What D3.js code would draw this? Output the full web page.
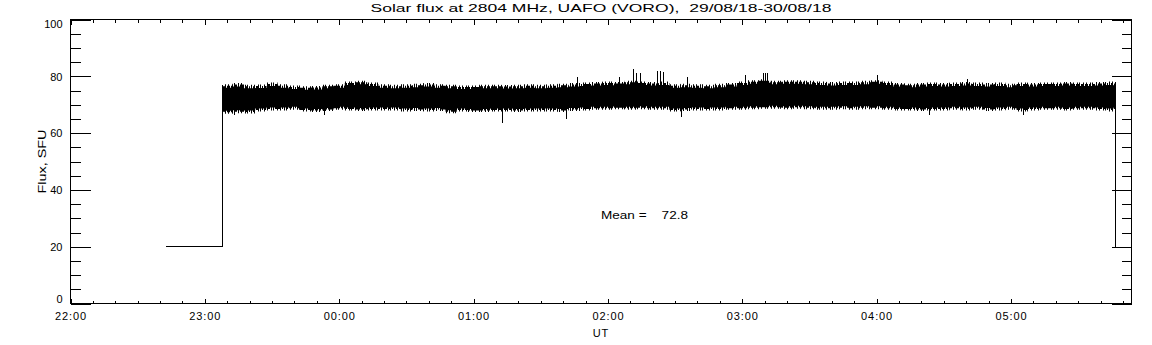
<!DOCTYPE html>
<html><head><meta charset="utf-8">
<script src="https://cdn.jsdelivr.net/npm/d3@7"></script>
<style>
html,body{margin:0;padding:0;background:#fff;}
svg{display:block;}
text{font-family:"Liberation Sans",Arial,sans-serif;fill:#000;}
</style></head><body>
<svg id="chart" width="1152" height="345"></svg>
<script>
// ---------- data ----------
const titleText = "Solar flux at 2804 MHz, UAFO (VORO),  29/08/18-30/08/18";
const xLabel = "UT";
const yLabel = "Flux, SFU";
const meanValue = 72.8;
const meanLabel = "Mean =    72.8";
const xDomain = ["22:00:00", "05:53:50"];
const yDomain = [0, 100];
const xTickLabels = ["22:00","23:00","00:00","01:00","02:00","03:00","04:00","05:00"];
const yTickValues = [0, 20, 40, 60, 80, 100];

// flat calibration level before / after the observation
const preTimes = ["22:42:42", "23:07:48"];
const preValues = [20, 20];
const postTimes = ["05:46:42"];
const postValues = [20];

// 5-minute envelope of the noisy flux record (upper / lower extent)
const bandTimes = ["23:07:48","23:10","23:15","23:20","23:25","23:30","23:35","23:40","23:45","23:50","23:55",
  "00:00","00:05","00:10","00:15","00:20","00:25","00:30","00:35","00:40","00:45","00:50","00:55",
  "01:00","01:05","01:10","01:15","01:20","01:25","01:30","01:35","01:40","01:45","01:50","01:55",
  "02:00","02:05","02:10","02:15","02:20","02:25","02:30","02:35","02:40","02:45","02:50","02:55",
  "03:00","03:05","03:10","03:15","03:20","03:25","03:30","03:35","03:40","03:45","03:50","03:55",
  "04:00","04:05","04:10","04:15","04:20","04:25","04:30","04:35","04:40","04:45","04:50","04:55",
  "05:00","05:05","05:10","05:15","05:20","05:25","05:30","05:35","05:40","05:45","05:46:42"];
const bandHigh = [77.0,77.2,77.6,77.0,77.1,77.8,77.2,76.8,76.5,76.6,77.0,
  77.2,78.2,78.4,77.8,77.2,77.0,77.2,77.4,77.6,77.2,77.0,76.8,
  76.8,77.0,77.0,76.9,77.0,77.2,77.0,77.2,77.4,77.6,77.8,78.0,
  78.2,78.0,78.4,78.2,78.0,78.2,77.2,77.4,77.2,77.0,77.4,77.6,
  78.2,78.6,79.0,78.4,78.6,78.6,78.4,78.2,78.0,78.2,78.2,78.4,
  78.6,78.2,77.6,77.4,77.6,77.8,77.6,77.8,78.0,77.8,77.6,77.8,
  77.4,77.8,77.6,77.8,77.8,78.0,77.8,77.8,78.0,78.2,78.0];
const bandLow = [67.0,66.8,67.0,66.9,67.6,68.0,68.0,68.2,67.6,67.4,67.8,
  68.2,68.0,67.8,68.0,68.0,68.0,67.6,67.8,67.6,67.8,67.0,67.6,
  67.4,67.4,67.6,67.6,67.4,67.6,67.6,67.6,67.4,67.8,68.0,68.2,
  68.2,68.4,68.2,68.4,68.2,68.2,67.6,67.8,68.0,68.0,68.0,68.2,
  68.2,68.4,68.6,68.6,68.4,68.6,68.4,68.2,68.2,68.4,68.2,68.4,
  68.4,68.2,68.0,68.0,67.8,68.0,68.0,68.2,68.0,68.2,67.8,68.0,
  68.2,67.6,68.0,68.2,68.2,68.0,68.2,68.2,68.0,67.6,68.0];

// isolated spikes
const spikeUpTimes = ["01:46:24","02:05:24","02:11:24","02:12:36","02:14:24","02:22:06","02:23:18","02:24:48",
  "02:35:36","03:01:24","03:09:36","03:10:24","03:11:12","04:00:12","04:40:24"];
const spikeUpValues = [79.8,79.8,82.7,81.0,81.0,81.8,81.8,81.5,79.8,80.3,81.0,81.0,81.0,80.3,79.2];
const spikeDownTimes = ["23:13:18","23:53:36","01:12:48","01:41:18","02:33:00","04:23:42","05:05:48"];
const spikeDownValues = [66.3,66.3,63.6,65.1,65.7,66.3,66.5];

// ---------- helpers ----------
function parseT(s){
  const p = s.split(":").map(Number);
  const day = p[0] >= 12 ? 29 : 30;
  return new Date(2018, 7, day, p[0], p[1], p[2] || 0);
}

const svg = d3.select("#chart");
const L = 70.5, R = 1131.5, T = 19.5, B = 303.5;
const x = d3.scaleTime().domain(xDomain.map(parseT)).range([L, R]);
const y = d3.scaleLinear().domain(yDomain).range([B, T]);

// patterns for the ragged fringe of the noise band
const defs = svg.append("defs");
function makePattern(id, w, bars){
  const p = defs.append("pattern").attr("id", id).attr("width", w).attr("height", 4)
    .attr("patternUnits","userSpaceOnUse");
  bars.forEach(([px, bw]) => p.append("rect").attr("x", px).attr("y", 0).attr("width", bw).attr("height", 4).attr("fill","#000"));
}
makePattern("fringeOuter", 13, [[0,1],[4,1],[7,1],[11,1]]);
makePattern("fringeInner", 11, [[0,2],[3,3],[7,1],[9,1]]);

// ---------- axes ----------
const hourTicks = xTickLabels.map(parseT);
const minorX = d3.timeMinute.every(10).range(x.domain()[0], x.domain()[1]).filter(d => d.getMinutes() !== 0);
const minorY = d3.range(0, 101, 5).filter(v => v % 20 !== 0);

function clean(g){ g.select(".domain").remove(); g.selectAll("line").attr("stroke","#000").attr("shape-rendering","crispEdges"); }

svg.append("g").attr("transform",`translate(0,${B})`)
  .call(d3.axisBottom(x).tickValues(hourTicks).tickSize(-5).tickPadding(9)
    .tickFormat((d,i) => xTickLabels[i]))
  .call(clean)
  .call(g => g.selectAll("text").attr("font-size","11px").attr("letter-spacing","0.9px").attr("fill","#000"));
svg.append("g").attr("transform",`translate(0,${B})`)
  .call(d3.axisBottom(x).tickValues(minorX).tickSize(-3).tickFormat("")).call(clean);
svg.append("g").attr("transform",`translate(0,${T})`)
  .call(d3.axisTop(x).tickValues(hourTicks).tickSize(-5).tickFormat("")).call(clean);
svg.append("g").attr("transform",`translate(0,${T})`)
  .call(d3.axisTop(x).tickValues(minorX).tickSize(-3).tickFormat("")).call(clean);

svg.append("g").attr("transform",`translate(${L},0)`)
  .call(d3.axisLeft(y).tickValues(yTickValues).tickSize(-20).tickPadding(8).tickFormat(d3.format("d")))
  .call(clean)
  .call(g => g.selectAll("text").attr("font-size","11px").attr("fill","#000")
     .attr("dy", d => d === 0 ? "-0.05em" : d === 100 ? "0.7em" : "0.35em"));
svg.append("g").attr("transform",`translate(${L},0)`)
  .call(d3.axisLeft(y).tickValues(minorY).tickSize(-10).tickFormat("")).call(clean);
svg.append("g").attr("transform",`translate(${R},0)`)
  .call(d3.axisRight(y).tickValues(yTickValues).tickSize(-20).tickFormat("")).call(clean);
svg.append("g").attr("transform",`translate(${R},0)`)
  .call(d3.axisRight(y).tickValues(minorY).tickSize(-10).tickFormat("")).call(clean);

// frame
svg.append("rect").attr("x",L).attr("y",T).attr("width",R-L).attr("height",B-T)
  .attr("fill","none").attr("stroke","#000").attr("shape-rendering","crispEdges");

// ---------- data marks ----------
const band = bandTimes.map((t,i) => ({t: parseT(t), hi: bandHigh[i], lo: bandLow[i]}));
const bandArea = (inTop, inBot) => d3.area().x(d => x(d.t))
  .y0(d => y(d.lo) - inBot).y1(d => y(d.hi) + inTop).curve(d3.curveStep);
svg.append("path").attr("d", bandArea(0, 0)(band)).attr("fill","url(#fringeOuter)");
svg.append("path").attr("d", bandArea(1.5, 1.5)(band)).attr("fill","url(#fringeInner)");
svg.append("path").attr("d", bandArea(3.5, 3)(band)).attr("fill","#000");

const line = d3.line().x(d => x(d.t)).y(d => y(d.v));
const first = band[0], last = band[band.length-1];
const pre = preTimes.map((t,i) => ({t: parseT(t), v: preValues[i]})).concat([{t: first.t, v: first.hi}]);
const post = [{t: last.t, v: last.hi}].concat(postTimes.map((t,i) => ({t: parseT(t), v: postValues[i]})));
svg.append("path").attr("d", line(pre)).attr("fill","none").attr("stroke","#000").attr("shape-rendering","crispEdges");
svg.append("path").attr("d", line(post)).attr("fill","none").attr("stroke","#000").attr("shape-rendering","crispEdges");

svg.append("g").selectAll("line").data(spikeUpTimes.map((t,i) => ({t: parseT(t), v: spikeUpValues[i]})))
  .join("line").attr("x1", d => x(d.t)).attr("x2", d => x(d.t))
  .attr("y1", y(meanValue)).attr("y2", d => y(d.v))
  .attr("stroke","#000").attr("shape-rendering","crispEdges");
svg.append("g").selectAll("line").data(spikeDownTimes.map((t,i) => ({t: parseT(t), v: spikeDownValues[i]})))
  .join("line").attr("x1", d => x(d.t)).attr("x2", d => x(d.t))
  .attr("y1", y(meanValue)).attr("y2", d => y(d.v))
  .attr("stroke","#000").attr("shape-rendering","crispEdges");

// ---------- texts ----------
svg.append("text").attr("x", (L+R)/2).attr("y", 11.5).attr("text-anchor","middle").style("white-space","pre")
  .attr("font-size","11.5px").attr("textLength", 461).attr("lengthAdjust","spacingAndGlyphs")
  .text(titleText);
svg.append("text").attr("x", (L+R)/2).attr("y", 337).attr("text-anchor","middle")
  .attr("font-size","11px").attr("letter-spacing","0.8px").text(xLabel);
svg.append("text").attr("transform", `translate(46,${(T+B)/2}) rotate(-90)`).attr("text-anchor","middle")
  .attr("font-size","11px").attr("textLength", 64).attr("lengthAdjust","spacingAndGlyphs").text(yLabel);
svg.append("text").attr("x", 601).attr("y", 218.5).style("white-space","pre")
  .attr("font-size","10px").attr("textLength", 87).attr("lengthAdjust","spacingAndGlyphs").text(meanLabel);
</script>
</body></html>
